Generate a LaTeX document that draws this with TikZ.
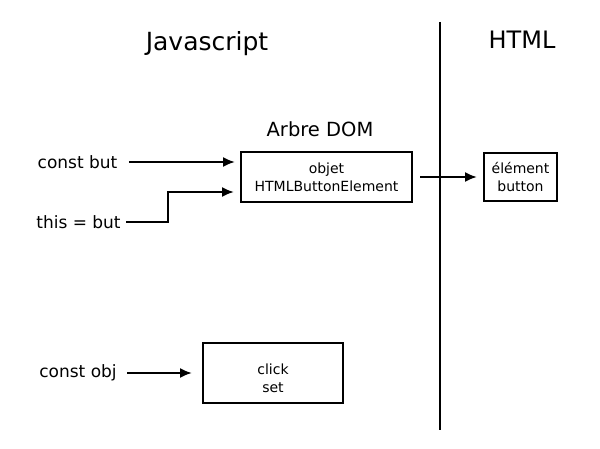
\documentclass[tikz,border=0pt]{standalone}
\usepackage{fontspec}
\setmainfont{DejaVu Sans}
\usetikzlibrary{arrows.meta}
\newcommand{\taille}[1]{\fontsize{#1}{1.3*#1}\selectfont}

\begin{document}
\begin{tikzpicture}[
    x=1pt, y=-1pt,
    titre/.style={font=\fontsize{25}{30}\selectfont},
    lbl/.style={font=\fontsize{17}{20}\selectfont},
    boite/.style={draw, line width=2pt, align=center, inner sep=0pt,
        font=\fontsize{14}{18}\selectfont},
    fleche/.style={-{Latex[length=12pt,width=10pt]}, line width=2pt},
    ]
    \useasboundingbox (0,0) rectangle (600,449);

    % titres
    \node[titre] (js) at (207,44) {Javascript};
    \node[titre, font=\fontsize{24}{29}\selectfont] (html) at (522,40) {HTML};
    \node[font=\fontsize{19.5}{23}\selectfont] (arbre) at (320,129) {Arbre DOM};

    % separation
    \draw[line width=2pt] (440,22) -- (440,430);

    % boites
    \node[boite, minimum width=171, minimum height=50] (dom) at (326.5,177)
        {objet\\HTMLButtonElement};
    \node[boite, minimum width=73, minimum height=48] (elem) at (520.5,177)
        {élément\\button};
    \node[boite, minimum width=140, minimum height=60] (obj) at (273,373) {};
    \node[boite, draw=none] (objtxt) at (273,378) {click\\set};

    % variables
    \node[lbl] (but) at (77.5,162) {const but};
    \node[lbl] (this) at (78.5,222) {this = but};
    \node[lbl] (cobj) at (78,373) {const obj};

    % references
    \draw[fleche, shorten <=8, shorten >=5] (but.east) -- (dom.west |- but);
    \draw[fleche, shorten <=2, shorten >=6] (this.east) -- ++(44,0)
        |- ([yshift=-15pt]dom.west);
    \draw[fleche, shorten <=7, shorten >=6] (dom.east) -- (elem.west);
    \draw[fleche, shorten <=7, shorten >=10] (cobj.east) -- (obj.west |- cobj);
\end{tikzpicture}
\end{document}
